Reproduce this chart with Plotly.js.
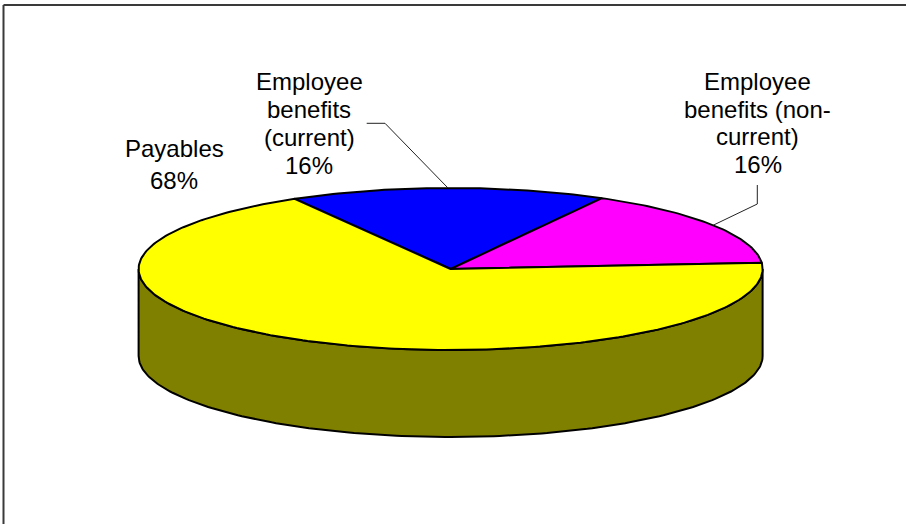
<!DOCTYPE html>
<html>
<head>
<meta charset="utf-8">
<script src="https://cdn.plot.ly/plotly-3.0.1.min.js"></script>
<style>html,body{margin:0;padding:0;background:#fff;}#chart{width:906px;height:524px;}</style>
</head>
<body>
<div id="chart"></div>
<script>
// ---- data ----
const categories = ['Employee benefits (current)', 'Employee benefits (non-current)', 'Payables'];
const values = [16.4, 15.7, 67.9];
const sliceColors = ['#0000FF', '#FF00FF', '#FFFF00'];
const labelLines = [['Employee', 'benefits', '(current)'], ['Employee', 'benefits (non-', 'current)'], ['Payables']];

// ---- geometry / style ----
const cx = 450.6, cy = 269, rx = 312, ry = 81, depth = 87, startDeg = -30;
const fontFam = 'Liberation Sans, Arial, sans-serif';
const labelPos = [ {x: 309, y0: 81.2, gap: 28}, {x: 757.5, y0: 81.5, gap: 27.6}, {x: 174, y0: 148, gap: 32} ];
const elbows = [ [[366.7, 123.3], [385, 123.3]], [[757.3, 185], [757.3, 204]], null ];

function pt(deg, dy) {
  const r = deg * Math.PI / 180;
  return [cx + rx * Math.sin(r), cy - ry * Math.cos(r) + (dy || 0)];
}
function arc(a0, a1, dy) {
  const n = Math.max(2, Math.ceil(Math.abs(a1 - a0) / 1));
  const out = [];
  for (let i = 0; i <= n; i++) out.push(pt(a0 + (a1 - a0) * i / n, dy));
  return out;
}
function darken(hex) {
  const v = parseInt(hex.slice(1), 16);
  const r = (v >> 16) & 255, g = (v >> 8) & 255, b = v & 255;
  return 'rgb(' + Math.round(r / 2) + ',' + Math.round(g / 2) + ',' + Math.round(b / 2) + ')';
}

const total = values.reduce((a, b) => a + b, 0);
const slices = [];
let cum = 0;
values.forEach((v, i) => {
  const a0 = startDeg + 360 * cum / total;
  const a1 = a0 + 360 * v / total;
  cum += v;
  slices.push({a0, a1, i});
});

const traces = [];
function poly(points, fill) {
  traces.push({
    type: 'scatter', mode: 'lines', fill: 'toself', fillcolor: fill,
    x: points.map(p => p[0]), y: points.map(p => p[1]),
    line: {color: '#000', width: 2}, hoverinfo: 'skip', showlegend: false
  });
}
// side walls (front half 90..270)
slices.forEach(s => {
  for (let k = -1; k <= 1; k++) {
    const lo = Math.max(s.a0 + 360 * k, 90), hi = Math.min(s.a1 + 360 * k, 270);
    if (lo < hi) {
      const pts = arc(lo, hi, 0).concat(arc(hi, lo, depth));
      pts.push(pts[0]);
      poly(pts, darken(sliceColors[s.i]));
    }
  }
});
// top faces
slices.forEach(s => {
  const pts = [[cx, cy]].concat(arc(s.a0, s.a1, 0));
  pts.push([cx, cy]);
  poly(pts, sliceColors[s.i]);
});
// leader lines
slices.forEach(s => {
  const e = elbows[s.i];
  if (!e) return;
  const m = pt((s.a0 + s.a1) / 2, 0);
  const pts = e.concat([m]);
  traces.push({type: 'scatter', mode: 'lines', x: pts.map(p => p[0]), y: pts.map(p => p[1]),
    line: {color: '#222', width: 1}, hoverinfo: 'skip', showlegend: false});
});

// labels
const annotations = [];
slices.forEach(s => {
  const lp = labelPos[s.i];
  const lines = labelLines[s.i].concat([Math.round(values[s.i] / total * 100) + '%']);
  lines.forEach((t, j) => {
    annotations.push({x: lp.x, y: lp.y0 + j * lp.gap, xref: 'x', yref: 'y', text: t, showarrow: false,
      xanchor: 'center', yanchor: 'middle', font: {family: fontFam, size: 24, color: '#000'}});
  });
});

const layout = {
  width: 906, height: 524, margin: {l: 0, r: 0, t: 0, b: 0},
  paper_bgcolor: '#fff', plot_bgcolor: '#fff', showlegend: false,
  xaxis: {range: [0, 906], visible: false, fixedrange: true},
  yaxis: {range: [524, 0], visible: false, fixedrange: true},
  annotations: annotations,
  shapes: [
    {type: 'line', xref: 'x', yref: 'y', x0: 3.5, y0: 5, x1: 906, y1: 5, line: {color: '#3a3a3a', width: 2}},
    {type: 'line', xref: 'x', yref: 'y', x0: 3.5, y0: 5, x1: 3.5, y1: 524, line: {color: '#3a3a3a', width: 2}}
  ]
};
Plotly.newPlot('chart', traces, layout, {staticPlot: true, displayModeBar: false});
</script>
</body>
</html>
